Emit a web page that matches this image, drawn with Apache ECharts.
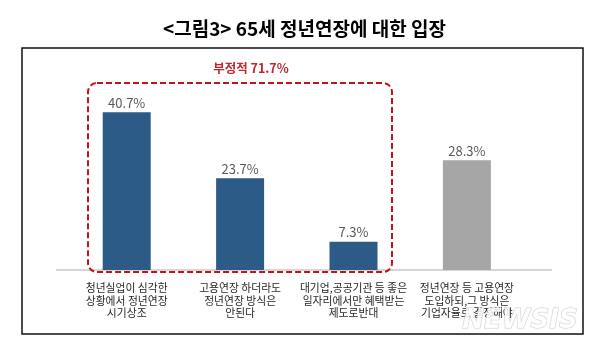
<!DOCTYPE html>
<html>
<head>
<meta charset="utf-8">
<style>
  html, body { margin: 0; padding: 0; background: #fff; }
  #main { width: 609px; height: 351px; }
</style>
<script src="https://cdn.jsdelivr.net/npm/echarts@6/dist/echarts.min.js"></script>
</head>
<body>
<div id="main"></div>
<script>
// 데이터
var titleText = '<그림3> 65세 정년연장에 대한 입장';
var categories = [
  '청년실업이 심각한\n상황에서 정년연장\n시기상조',
  '고용연장 하더라도\n정년연장 방식은\n안된다',
  '대기업,공공기관 등 좋은\n일자리에서만 혜택받는\n제도로반대',
  '정년연장 등 고용연장\n도입하되,그 방식은\n기업자율로 결정해야'
];
var values = [40.7, 23.7, 7.3, 28.3];
var negativeGroup = [0, 1, 2];     // 부정적 응답 묶음
var negativeLabel = '부정적 71.7%';

var blue = '#2c5b87';
var grey = '#a6a6a6';
var font = '"Noto Sans CJK KR", "Noto Sans", sans-serif';

var chart = echarts.init(document.getElementById('main'));

var option = {
  backgroundColor: '#fff',
  animation: false,
  title: {
    text: titleText,
    left: 'center',
    top: 14,
    textStyle: { fontFamily: font, fontSize: 19, fontWeight: 'bold', color: '#000' }
  },
  grid: { left: 70, right: 85.4, top: 76.25, bottom: 81 },
  xAxis: {
    type: 'category',
    data: categories,
    axisLine: { show: false },
    axisTick: { show: false },
    axisLabel: {
      interval: 0,
      margin: 12,
      fontFamily: font,
      fontSize: 10.8,
      lineHeight: 12.5,
      color: '#262626'
    }
  },
  yAxis: {
    type: 'value',
    min: 0,
    max: 50,
    show: false,
    splitLine: { show: false }
  },
  series: [{
    type: 'bar',
    barWidth: 48,
    data: values.map(function (v, i) {
      return {
        value: v,
        itemStyle: { color: negativeGroup.indexOf(i) >= 0 ? blue : grey }
      };
    }),
    label: {
      show: true,
      position: 'top',
      distance: 3,
      formatter: '{c}%',
      fontFamily: font,
      fontSize: 13,
      color: '#595959'
    },
    z: 3
  }],
  graphic: [
    // 바깥 테두리
    {
      type: 'rect', z: 0,
      shape: { x: 22, y: 48, width: 561, height: 286 },
      style: { fill: 'none', stroke: '#111', lineWidth: 1.5 }
    },
    // 가로축 선
    {
      type: 'line', z: 1,
      shape: { x1: 56, y1: 270, x2: 552, y2: 270 },
      style: { stroke: '#c8c8c8', lineWidth: 1.5 }
    },
    // 부정적 묶음 점선 박스
    {
      type: 'rect', z: 10,
      shape: { x: 88, y: 83, width: 304, height: 189, r: 9 },
      style: { fill: 'none', stroke: '#c0141c', lineWidth: 2, lineDash: [6, 3] }
    },
    {
      type: 'text', z: 10,
      style: {
        text: negativeLabel, x: 251, y: 68, align: 'center', verticalAlign: 'middle',
        fontFamily: font, fontSize: 12.5, fontWeight: 'bold', fill: '#c0282d'
      }
    },
    // 워터마크
    {
      type: 'text', z: 20,
      style: {
        text: 'NEWSIS', x: 520, y: 321, align: 'center', verticalAlign: 'middle',
        fontFamily: '"DejaVu Sans", sans-serif', fontSize: 26, fontWeight: 'bold', fontStyle: 'italic',
        fill: 'rgba(255,255,255,0.85)', stroke: 'rgba(140,140,140,0.45)', lineWidth: 1
      }
    }
  ]
};

chart.setOption(option);
</script>
</body>
</html>
